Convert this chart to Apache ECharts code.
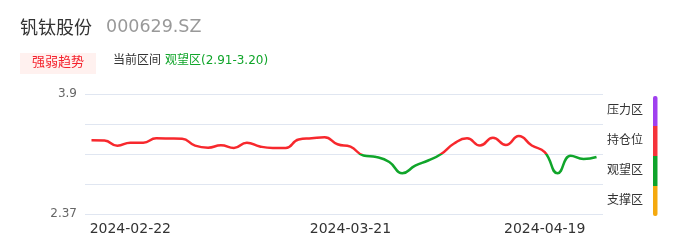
<!DOCTYPE html>
<html>
<head>
<meta charset="utf-8">
<script src="https://cdn.jsdelivr.net/npm/echarts@6/dist/echarts.min.js"></script>
<style>
html,body{margin:0;padding:0;background:#fff;}
#main{width:686px;height:247px;}
</style>
</head>
<body>
<div id="main"></div>
<script>
// ---- data ----
var dates = [
  '2024-02-19','2024-02-20','2024-02-21','2024-02-22','2024-02-23','2024-02-26','2024-02-27','2024-02-28',
  '2024-02-29','2024-03-01','2024-03-04','2024-03-05','2024-03-07','2024-03-08','2024-03-11','2024-03-12',
  '2024-03-14','2024-03-15','2024-03-18','2024-03-20','2024-03-21','2024-03-22','2024-03-25','2024-03-26',
  '2024-03-27','2024-03-28','2024-04-01','2024-04-02','2024-04-03','2024-04-08','2024-04-09','2024-04-10',
  '2024-04-12','2024-04-16','2024-04-18','2024-04-19','2024-04-22','2024-04-23','2024-04-24','2024-04-25'
];
var values = [
  3.310, 3.307, 3.241, 3.279, 3.279, 3.335, 3.333, 3.329,
  3.241, 3.215, 3.246, 3.212, 3.279, 3.231, 3.212, 3.212,
  3.320, 3.335, 3.348, 3.259, 3.228, 3.116, 3.097, 3.033,
  2.889, 2.986, 3.052, 3.135, 3.269, 3.335, 3.243, 3.343,
  3.250, 3.365, 3.243, 3.160, 2.889, 3.113, 3.071, 3.097
];
var shownDates = ['2024-02-22', '2024-03-21', '2024-04-19'];
var yMin = 2.37, yMax = 3.9;
var yTickLabels = ['2.37', '', '', '', '3.9'];
var zoneThreshold = 3.135;
var zoneNames = ['压力区', '持仓位', '观望区', '支撑区'];
var zoneColors = ['#a040ef', '#f5333a', '#0fa32b', '#f5a90e'];

var RED = '#f7282d', GREEN = '#10a52a';
var CJK = '"DejaVu Sans", "Noto Sans CJK SC", sans-serif';

var chart = echarts.init(document.getElementById('main'), null, {renderer: 'canvas'});

var graphics = [
  {type: 'text', left: 20, top: 18, style: {text: '钒钛股份', fill: '#333', font: '18px "Noto Sans CJK SC", sans-serif'}},
  {type: 'text', left: 106, top: 18, style: {text: '000629.SZ', fill: '#999', font: '17.5px "DejaVu Sans", sans-serif'}},
  {type: 'rect', shape: {x: 20, y: 53, width: 76, height: 21}, style: {fill: '#fff1ef'}},
  {type: 'text', left: 32, top: 55, style: {text: '强弱趋势', fill: '#f5222d', font: '13px "Noto Sans CJK SC", sans-serif'}},
  {type: 'text', left: 113, top: 55, style: {text: '当前区间', fill: '#333', font: '12px ' + CJK}},
  {type: 'text', left: 165, top: 55, style: {text: '观望区(2.91-3.20)', fill: '#10a52a', font: '12px ' + CJK}}
];
var bandTop = 96, bandH = 30;
zoneNames.forEach(function (name, i) {
  graphics.push({type: 'text', left: 607, top: bandTop + bandH * i + 7, style: {text: name, fill: '#333', font: '12px "Noto Sans CJK SC", sans-serif'}});
  var r = [0, 0, 0, 0];
  if (i === 0) r = [2, 2, 0, 0];
  if (i === zoneNames.length - 1) r = [0, 0, 2, 2];
  graphics.push({type: 'rect', shape: {x: 653, y: bandTop + bandH * i, width: 4.5, height: bandH, r: r}, style: {fill: zoneColors[i]}});
});

chart.setOption({
  animation: false,
  grid: {left: 85, right: 83, top: 94, bottom: 33, containLabel: false},
  graphic: graphics,
  xAxis: {
    type: 'category',
    data: dates,
    boundaryGap: true,
    axisLine: {show: false},
    axisTick: {show: false},
    axisLabel: {
      color: '#333',
      fontSize: 14,
      margin: 8,
      fontFamily: 'DejaVu Sans',
      interval: function (idx, val) { return shownDates.indexOf(val) >= 0; }
    }
  },
  yAxis: {
    type: 'value',
    min: yMin,
    max: yMax,
    interval: (yMax - yMin) / 4,
    axisLine: {show: false},
    axisTick: {show: false},
    splitLine: {lineStyle: {color: '#e0e6f1'}},
    axisLabel: {
      color: '#666',
      fontSize: 12,
      margin: 8,
      fontFamily: 'DejaVu Sans',
      formatter: function (v, i) { return yTickLabels[i] || ''; }
    }
  },
  visualMap: {
    show: false,
    type: 'piecewise',
    dimension: 1,
    seriesIndex: 0,
    pieces: [
      {gte: yMin, lt: zoneThreshold, color: GREEN},
      {gte: zoneThreshold, lte: yMax, color: RED}
    ],
    outOfRange: {color: RED}
  },
  series: [{
    type: 'line',
    data: values,
    smooth: true,
    symbol: 'none',
    lineStyle: {width: 2.5}
  }]
});
</script>
</body>
</html>
